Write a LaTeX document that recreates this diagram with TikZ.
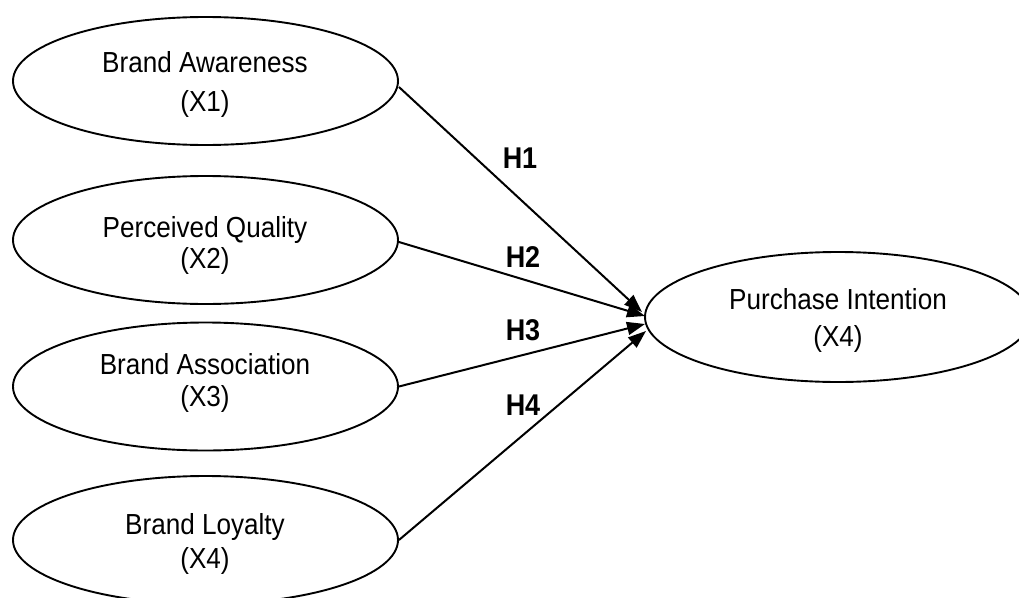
\documentclass[tikz,border=0pt]{standalone}
\usepackage{fontspec}
\setmainfont{Liberation Sans}[FakeStretch=0.9]
\usetikzlibrary{shapes.geometric,arrows.meta}
\begin{document}
\begin{tikzpicture}[x=1pt,y=-1pt,
  construct/.style={ellipse,draw=black,line width=1.9pt,minimum width=385pt,minimum height=128pt,inner sep=0pt},
  ctext/.style={align=center,inner sep=0pt,font=\fontsize{29}{#1}\selectfont},
  path/.style={draw=black,line width=2pt,-{Triangle[length=18pt,width=13pt]}},
  hyp/.style={font=\fontsize{30}{33}\selectfont\bfseries,inner sep=0pt}]
\useasboundingbox (0,0) rectangle (1019,597);
\node[construct] (e1) at (205.5,81) {};
\node[construct] (e2) at (205.5,240) {};
\node[construct] (e3) at (205.5,386.5) {};
\node[construct] (e4) at (205.5,540) {};
\node[construct,minimum width=386pt,minimum height=130pt] (pi) at (838,317) {};
\node[ctext=39] (e1t) at (205,84.5) {Brand Awareness\\(X1)};
\node[ctext=31] (e2t) at (205,245) {Perceived Quality\\(X2)};
\node[ctext=32] (e3t) at (205,383) {Brand Association\\(X3)};
\node[ctext=34] (e4t) at (205,543.5) {Brand Loyalty\\(X4)};
\node[ctext=37] (pit) at (838,320) {Purchase Intention\\(X4)};
\coordinate (t1) at (642,312);
\coordinate (t2) at (645,316);
\coordinate (t3) at (645,324);
\coordinate (t4) at (646,331);
\draw[path] ([yshift=-6pt]e1.east) -- (t1);
\draw[path] ([yshift=-2pt]e2.east) -- (t2);
\draw[path] (e3.east) -- (t3);
\draw[path] (e4.east) -- (t4);
\node[hyp] (h1) at (520,158) {H1};
\node[hyp] (h2) at (523,257) {H2};
\node[hyp] (h3) at (523,330) {H3};
\node[hyp] (h4) at (523,405) {H4};
\end{tikzpicture}
\end{document}
